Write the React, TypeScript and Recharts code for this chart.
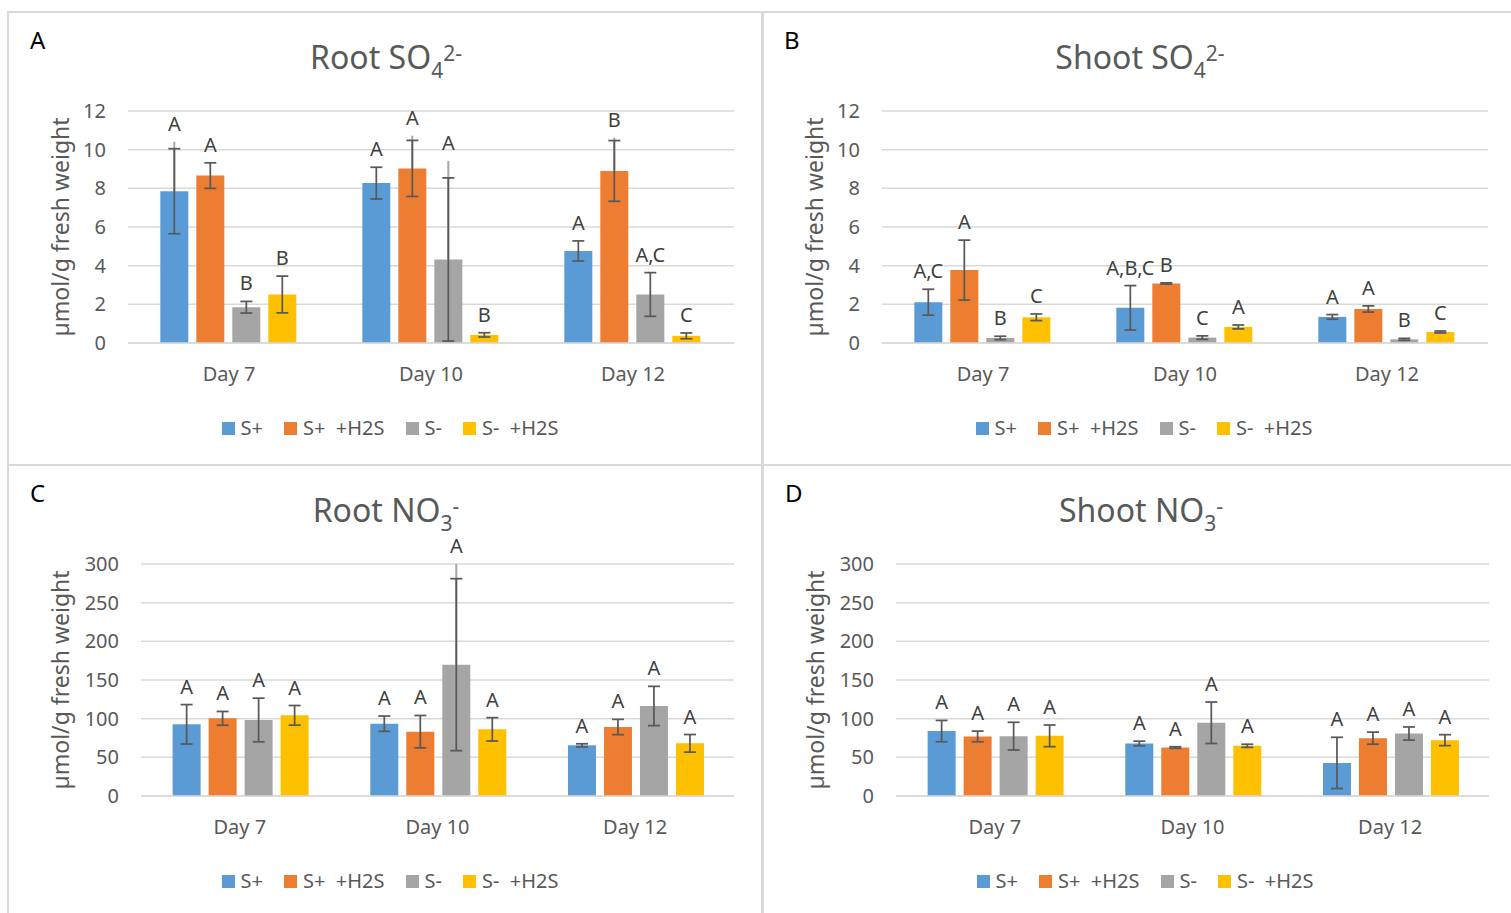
import React from 'react';
import {
  BarChart,
  Bar,
  XAxis,
  YAxis,
  CartesianGrid,
  ErrorBar,
  LabelList,
  Legend,
} from 'recharts';

// shared categories / series
const days = ['Day 7', 'Day 10', 'Day 12'];
const seriesNames = ['S+', 'S+  +H2S', 'S-', 'S-  +H2S'];
const seriesColors = ['#5B9BD5', '#ED7D31', '#A5A5A5', '#FFC000'];

const so4Ticks = [0, 2, 4, 6, 8, 10, 12];
const no3Ticks = [0, 50, 100, 150, 200, 250, 300];

// one row per series (S+, S+ +H2S, S-, S- +H2S), one value per day
const rootSO4 = [
  [7.85, 8.27, 4.76],
  [8.66, 9.03, 8.9],
  [1.85, 4.32, 2.51],
  [2.51, 0.42, 0.37],
];
const rootSO4Err = [
  [2.2, 0.82, 0.52],
  [0.66, 1.45, 1.57],
  [0.3, 4.22, 1.13],
  [0.95, 0.11, 0.15],
];
// top of the thin whisker line where it runs past the cap (0 = none)
const rootSO4Whisker = [
  [10.41, 0, 0],
  [0, 10.72, 10.62],
  [0, 9.42, 0],
  [0, 0, 0],
];
const rootSO4Letters = [
  ['A', 'A', 'A'],
  ['A', 'A', 'B'],
  ['B', 'A', 'A,C'],
  ['B', 'B', 'C'],
];

const shootSO4 = [
  [2.11, 1.82, 1.35],
  [3.77, 3.08, 1.76],
  [0.26, 0.28, 0.19],
  [1.33, 0.83, 0.57],
];
const shootSO4Err = [
  [0.67, 1.15, 0.12],
  [1.55, 0.03, 0.16],
  [0.09, 0.09, 0.05],
  [0.17, 0.1, 0.05],
];
const shootSO4Whisker = [
  [0, 0, 0],
  [0, 0, 0],
  [0, 0, 0],
  [0, 0, 0],
];
const shootSO4Letters = [
  ['A,C', 'A,B,C', 'A'],
  ['A', 'B', 'A'],
  ['B', 'C', 'B'],
  ['C', 'A', 'C'],
];

const rootNO3 = [
  [92.7, 93.5, 65.5],
  [100.4, 83.2, 89.2],
  [98.3, 169.8, 116.4],
  [104.3, 86.2, 68.1],
];
const rootNO3Err = [
  [25.5, 9.9, 2],
  [8.9, 20.9, 9.9],
  [28.2, 111.2, 25.4],
  [12.7, 15.1, 11.4],
];
const rootNO3Whisker = [
  [0, 0, 0],
  [0, 0, 0],
  [0, 300, 0],
  [0, 0, 0],
];
const rootNO3Letters = [
  ['A', 'A', 'A'],
  ['A', 'A', 'A'],
  ['A', 'A', 'A'],
  ['A', 'A', 'A'],
];

const shootNO3 = [
  [83.9, 67.9, 42.8],
  [77, 62.7, 74.8],
  [77.4, 94.7, 80.8],
  [77.8, 64.9, 72.2],
];
const shootNO3Err = [
  [13.8, 3, 33.1],
  [6.9, 1, 7.8],
  [17.9, 26.8, 8.5],
  [14, 2, 7.1],
];
const shootNO3Whisker = [
  [0, 0, 0],
  [0, 0, 0],
  [0, 0, 0],
  [0, 0, 0],
];
const shootNO3Letters = [
  ['A', 'A', 'A'],
  ['A', 'A', 'A'],
  ['A', 'A', 'A'],
  ['A', 'A', 'A'],
];

const FONT = '"Noto Sans", "Open Sans", sans-serif';
const TEXT = '#595959';
const GRID = '#D9D9D9';

interface PanelProps {
  letter: string;
  titleMain: string;
  titleSub: string;
  titleSup: string;
  values: number[][];
  errors: number[][];
  whiskers: number[][];
  letters: string[][];
  ticks: number[];
  yAxisWidth: number;
}

const LegendRow = () => (
  <div
    style={{
      display: 'flex',
      justifyContent: 'center',
      alignItems: 'center',
      height: 24,
      paddingLeft: 14,
      fontFamily: FONT,
      fontSize: 20,
      color: TEXT,
    }}
  >
    {seriesNames.map((name, s) => (
      <div key={name} style={{ display: 'flex', alignItems: 'center', marginRight: s < 3 ? 21 : 0 }}>
        <span style={{ width: 13, height: 13, background: seriesColors[s], marginRight: 6 }} />
        <span style={{ whiteSpace: 'pre', lineHeight: '24px' }}>{name}</span>
      </div>
    ))}
  </div>
);

const Panel: React.FC<PanelProps> = ({
  letter, titleMain, titleSub, titleSup, values, errors, whiskers, letters, ticks, yAxisWidth,
}) => {
  const data = days.map((day, i) => {
    const row: any = { day };
    seriesNames.forEach((_, s) => {
      const v = values[s][i];
      row[`v${s}`] = v;
      row[`e${s}`] = errors[s][i];
      row[`w${s}`] = whiskers[s][i] > 0 ? [0, whiskers[s][i] - v] : [0, 0];
      row[`l${s}`] = letters[s][i];
    });
    return row;
  });

  const letterLabel = (s: number) => (props: any) => {
    const vb = props.viewBox || props;
    const { x, y, width, height } = vb;
    const index = props.index;
    if (index == null) return null;
    const v = values[s][index];
    const top = Math.max(v + errors[s][index], whiskers[s][index]);
    const ppu = height / v;
    const cy = y + height - top * ppu - 18;
    return (
      <text x={x + width / 2} y={cy} dy={7} textAnchor="middle" fontSize={20} fontFamily={FONT} fill="#404040">
        {letters[s][index]}
      </text>
    );
  };

  return (
    <div style={{ position: 'absolute', left: 0, top: 0, width: 754, height: 453 }}>
      <svg width={754} height={80} style={{ position: 'absolute', left: 0, top: 0 }}>
        <text x={22} y={37} fontSize={24} fontFamily={FONT} fill="#000">{letter}</text>
        <text x={378} y={57} textAnchor="middle" fontFamily={FONT} fill={TEXT} fontSize={32}>
          {titleMain}
          <tspan fontSize={21} dy={9}>{titleSub}</tspan>
          <tspan fontSize={21} dy={-17}>{titleSup}</tspan>
        </text>
      </svg>
      <div style={{ position: 'absolute', left: 0, top: 0 }}>
        <BarChart
          width={750}
          height={453}
          data={data}
          margin={{ top: 99, right: 24, left: 0, bottom: 82 }}
          barCategoryGap="16%"
          barGap={8}
        >
          <CartesianGrid vertical={false} stroke={GRID} strokeWidth={1.5} />
          <XAxis
            dataKey="day"
            height={40}
            tickLine={false}
            tickSize={0}
            tickMargin={24}
            axisLine={{ stroke: GRID, strokeWidth: 1.5 }}
            tick={{ fontSize: 20, fill: TEXT, fontFamily: FONT }}
          />
          <YAxis
            width={yAxisWidth}
            domain={[0, ticks[ticks.length - 1]]}
            ticks={ticks}
            interval={0}
            axisLine={false}
            tickLine={false}
            tickSize={0}
            tickMargin={22}
            tick={{ fontSize: 20, fill: TEXT, fontFamily: FONT }}
            label={{
              value: 'µmol/g fresh weight',
              angle: -90,
              position: 'insideLeft',
              offset: 53,
              style: { textAnchor: 'middle', fill: TEXT, fontSize: 23, fontFamily: FONT },
            }}
          />
          <Legend
            layout="vertical"
            align="center"
            verticalAlign="middle"
            wrapperStyle={{ top: 404, left: 0, width: 750 }}
            content={() => <LegendRow />}
          />
          {seriesNames.map((name, s) => (
            <Bar key={name} dataKey={`v${s}`} name={name} fill={seriesColors[s]} isAnimationActive={false}>
              <ErrorBar dataKey={`w${s}`} width={0} stroke="#A6A6A6" strokeWidth={2} isAnimationActive={false} />
              <ErrorBar dataKey={`e${s}`} width={6} stroke={TEXT} strokeWidth={1.75} isAnimationActive={false} />
              <LabelList dataKey={`l${s}`} content={letterLabel(s)} />
            </Bar>
          ))}
        </BarChart>
      </div>
    </div>
  );
};

const frame = (left: number, top: number, width: number, height: number): React.CSSProperties => ({
  position: 'absolute',
  left,
  top,
  width,
  height,
  border: `2px solid ${GRID}`,
  boxSizing: 'border-box',
});

export default function App() {
  return (
    <div style={{ position: 'relative', width: 1511, height: 913, overflow: 'hidden', background: '#fff' }}>
      <style>{'body{margin:0}'}</style>
      <div style={frame(7, 11, 756, 455)} />
      <div style={frame(762, 11, 760, 455)} />
      <div style={frame(7, 464, 756, 460)} />
      <div style={frame(762, 464, 760, 460)} />

      <div style={{ position: 'absolute', left: 8, top: 12 }}>
        <Panel letter="A" titleMain="Root SO" titleSub="4" titleSup="2-" values={rootSO4} errors={rootSO4Err}
          whiskers={rootSO4Whisker} letters={rootSO4Letters} ticks={so4Ticks} yAxisWidth={120} />
      </div>
      <div style={{ position: 'absolute', left: 762, top: 12 }}>
        <Panel letter="B" titleMain="Shoot SO" titleSub="4" titleSup="2-" values={shootSO4} errors={shootSO4Err}
          whiskers={shootSO4Whisker} letters={shootSO4Letters} ticks={so4Ticks} yAxisWidth={120} />
      </div>
      <div style={{ position: 'absolute', left: 8, top: 465 }}>
        <Panel letter="C" titleMain="Root NO" titleSub="3" titleSup="-" values={rootNO3} errors={rootNO3Err}
          whiskers={rootNO3Whisker} letters={rootNO3Letters} ticks={no3Ticks} yAxisWidth={133} />
      </div>
      <div style={{ position: 'absolute', left: 763, top: 465 }}>
        <Panel letter="D" titleMain="Shoot NO" titleSub="3" titleSup="-" values={shootNO3} errors={shootNO3Err}
          whiskers={shootNO3Whisker} letters={shootNO3Letters} ticks={no3Ticks} yAxisWidth={133} />
      </div>
    </div>
  );
}
